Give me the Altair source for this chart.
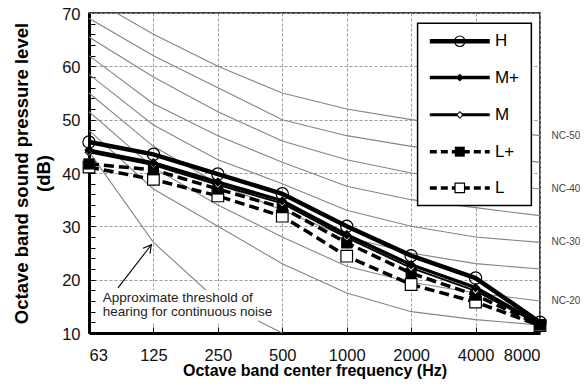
import altair as alt
import pandas as pd

# ---------------- data ----------------
freqs = ["63", "125", "250", "500", "1000", "2000", "4000", "8000"]
series_names = ["H", "M+", "M", "L+", "L"]
h_vals = [45.8, 43.5, 39.8, 36.1, 30.0, 24.5, 20.3, 12.0]
mp_vals = [44.3, 41.9, 38.3, 34.8, 28.4, 22.8, 18.5, 11.7]
m_vals = [43.9, 41.5, 37.8, 34.3, 27.9, 22.2, 17.9, 11.6]
lp_vals = [41.7, 40.6, 37.0, 33.5, 26.9, 21.2, 17.1, 11.5]
l_vals = [41.1, 38.8, 35.7, 31.9, 24.4, 19.1, 15.8, 11.4]

nc_names = ["NC-15", "NC-20", "NC-25", "NC-30", "NC-35", "NC-40", "NC-45", "NC-50"]
nc15 = [48, 37, 30, 23, 17.5, 14, 12.5, 11.5]
nc20 = [51.5, 41, 34, 28, 22.5, 19.5, 17.5, 16]
nc25 = [55, 45, 38, 33, 28, 25, 23, 22]
nc30 = [58.5, 49, 42.5, 38, 33, 30, 28, 27]
nc35 = [62, 53, 47, 42, 37.5, 35, 33.5, 32]
nc40 = [65.5, 58, 51.5, 46, 42.5, 40, 38.5, 37]
nc45 = [69, 62, 56, 50, 47, 45, 43.5, 42]
nc50 = [73, 66, 60, 55, 52, 50, 48.5, 47]
nc_labelled = ["NC-50", "NC-40", "NC-30", "NC-20"]

threshold_freqs = ["63", "125", "250", "500"]
threshold_vals = [44, 27, 16, 10]

annotation_lines = ["Approximate threshold of", "hearing for continuous noise"]

# ---------------- tables ----------------
series_vals = [h_vals, mp_vals, m_vals, lp_vals, l_vals]
rows = []
for name, vals in zip(series_names, series_vals):
    for i, v in enumerate(vals):
        rows.append({"series": name, "idx": i, "value": v})
df = pd.DataFrame(rows)

nc_vals = [nc15, nc20, nc25, nc30, nc35, nc40, nc45, nc50]
nc_rows = []
for name, vals in zip(nc_names, nc_vals):
    for i, v in enumerate(vals):
        nc_rows.append({"curve": name, "idx": i, "value": v})
nc_df = pd.DataFrame(nc_rows)
nc_lab_df = nc_df[(nc_df.curve.isin(nc_labelled)) & (nc_df.idx == len(freqs) - 1)]

thr_df = pd.DataFrame({"idx": [freqs.index(f) for f in threshold_freqs], "value": threshold_vals})

ann_df = pd.DataFrame({"idx": [0.213, 0.213], "value": [15.85, 13.1], "text": annotation_lines})
box_df = pd.DataFrame({"idx": [0.17], "idx2": [2.62], "value": [18.0], "value2": [12.0]})
arrow_df = pd.DataFrame({"idx": [0.45], "idx2": [0.968], "value": [18.45], "value2": [26.55]})
arrow_tip = pd.DataFrame({"idx": [0.968], "value": [26.55]})

legend_y = [64.7, 57.9, 50.9, 44.0, 37.2]
leg_df = pd.DataFrame({"series": series_names, "value": legend_y,
                       "x0": 5.29, "x1": 6.22, "xm": 5.755, "xt": 6.30})
leg_box = pd.DataFrame({"idx": [5.10], "idx2": [6.866], "value": [68.1], "value2": [33.9]})

# ---------------- encodings ----------------
xscale = alt.Scale(domain=[0, 7], nice=False, zero=False)
yscale = alt.Scale(domain=[10, 70], nice=False, zero=False)
FONT = "Liberation Sans"

label_expr = "[" + ",".join("'%s'" % f for f in freqs) + "][datum.value]"

x_main_axis = alt.Axis(values=list(range(len(freqs))), labelExpr=label_expr,
                       title="Octave band center frequency (Hz)", grid=True,
                       gridDash=[3, 2], gridColor="#9a9a9a", gridWidth=1, ticks=False,
                       domainColor="black", domainWidth=3, labelFontSize=16.5,
                       labelColor="#111", labelPadding=14, labelFont=FONT,
                       titleFontSize=16, titleFontWeight="bold", titleFont=FONT,
                       titleY=42.5, titleBaseline="alphabetic", titleColor="black")
y_main_axis = alt.Axis(values=list(range(10, 71, 10)), grid=True, gridDash=[3, 2],
                       gridColor="#9a9a9a", gridWidth=1, ticks=False,
                       domainColor="black", domainWidth=3, labelFontSize=16.5,
                       labelOffset=1, labelColor="#111", labelPadding=9, labelFont=FONT,
                       title=["Octave band sound pressure level", "(dB)"],
                       titleFontSize=18.5, titleFontWeight="bold", titleFont=FONT,
                       titleAngle=270, titleX=-62, titleY=160, titleAlign="center",
                       titleBaseline="alphabetic", titleLineHeight=22, titleColor="black")
y_tick_axis = alt.Axis(orient="left", offset=-6, values=list(range(12, 70, 2)), tickSize=6,
                       tickColor="black", tickWidth=1, domain=False, labels=False,
                       grid=False, title=None)
x_tick_axis = alt.Axis(orient="bottom", offset=-6, values=list(range(1, 7)), tickSize=6,
                       tickColor="black", tickWidth=1, domain=False, labels=False,
                       grid=False, title=None)


def X(field="idx", axis=None):
    return alt.X(f"{field}:Q", scale=xscale, axis=axis)


def Y(field="value", axis=None):
    return alt.Y(f"{field}:Q", scale=yscale, axis=axis)


layers = []

# NC curves (carry the main axes)
layers.append(alt.Chart(nc_df).mark_line(color="#858585", strokeWidth=1.1, clip=True).encode(
    x=X(axis=x_main_axis), y=Y(axis=y_main_axis), detail="curve:N"))

# threshold curve (carries inward ticks)
layers.append(alt.Chart(thr_df).mark_line(color="#858585", strokeWidth=1.1).encode(
    x=X(axis=x_tick_axis), y=Y(axis=y_tick_axis)))

# annotation box, text, arrow
layers.append(alt.Chart(box_df).mark_rect(color="white").encode(
    x=X(), x2="idx2:Q", y=Y(), y2="value2:Q"))
layers.append(alt.Chart(ann_df).mark_text(align="left", baseline="alphabetic", fontSize=13.5,
                                          font=FONT, color="#222").encode(
    x=X(), y=Y(), text="text:N"))
layers.append(alt.Chart(arrow_df).mark_rule(color="black", strokeWidth=1.1).encode(
    x=X(), x2="idx2:Q", y=Y(), y2="value2:Q"))
layers.append(alt.Chart(arrow_tip).mark_point(shape="M -0.55 1 L 0 0 L 0.55 1", filled=False,
                                              stroke="black", strokeWidth=1.1, size=250,
                                              angle=37.6, opacity=1).encode(x=X(), y=Y()))

line_style = {
    "H": dict(strokeWidth=4.5),
    "M+": dict(strokeWidth=3.4),
    "M": dict(strokeWidth=2.0),
    "L+": dict(strokeWidth=3.5, strokeDash=[10, 5]),
    "L": dict(strokeWidth=3.5, strokeDash=[10, 5]),
}
legend_line_style = {
    "H": dict(strokeWidth=4.5),
    "M+": dict(strokeWidth=3.4),
    "M": dict(strokeWidth=3.0),
    "L+": dict(strokeWidth=3.5, strokeDash=[7, 4]),
    "L": dict(strokeWidth=3.5, strokeDash=[7, 4]),
}
point_style = {
    "H": dict(shape="circle", filled=False, stroke="black", strokeWidth=1.2, size=150),
    "M+": dict(shape="diamond", filled=True, color="black", size=90),
    "M": dict(shape="diamond", fill="white", stroke="black", strokeWidth=1.1, size=55),
    "L+": dict(shape="square", filled=True, color="black", size=125),
    "L": dict(shape="square", fill="white", stroke="black", strokeWidth=1.2, size=135),
}
legend_point_size = {"H": 110, "M+": 60, "M": 40, "L+": 100, "L": 90}

draw_order = ["L", "L+", "M", "M+", "H"]
for s in draw_order:
    layers.append(alt.Chart(df[df.series == s]).mark_line(color="black", **line_style[s]).encode(
        x=X(), y=Y()))
for s in draw_order:
    layers.append(alt.Chart(df[df.series == s]).mark_point(opacity=1, **point_style[s]).encode(
        x=X(), y=Y()))

# legend
layers.append(alt.Chart(leg_box).mark_rect(fill="white", stroke="black", strokeWidth=1.5).encode(
    x=X(), x2="idx2:Q", y=Y(), y2="value2:Q"))
for s in series_names:
    sub = leg_df[leg_df.series == s]
    layers.append(alt.Chart(sub).mark_rule(color="black", **legend_line_style[s]).encode(
        x=X("x0"), x2="x1:Q", y=Y()))
    ps = dict(point_style[s])
    ps["size"] = legend_point_size[s]
    layers.append(alt.Chart(sub).mark_point(opacity=1, **ps).encode(x=X("xm"), y=Y()))
layers.append(alt.Chart(leg_df).mark_text(align="left", baseline="middle", fontSize=17,
                                          font=FONT, color="black").encode(
    x=X("xt"), y=Y(), text="series:N"))

# NC labels
layers.append(alt.Chart(nc_lab_df).mark_text(align="left", baseline="middle", dx=11.5,
                                             fontSize=10, font=FONT, color="#444").encode(
    x=X(), y=Y(), text="curve:N"))

chart = alt.layer(*layers).resolve_axis(x="independent", y="independent").properties(
    width=451, height=320,
    autosize=alt.AutoSizeParams(type="none"),
    padding={"left": 81, "top": 5, "right": 40, "bottom": 47},
).configure(font=FONT).configure_view(stroke="black", strokeWidth=1.5)

chart.save("out.html", embed_options={"renderer": "svg", "actions": False})
